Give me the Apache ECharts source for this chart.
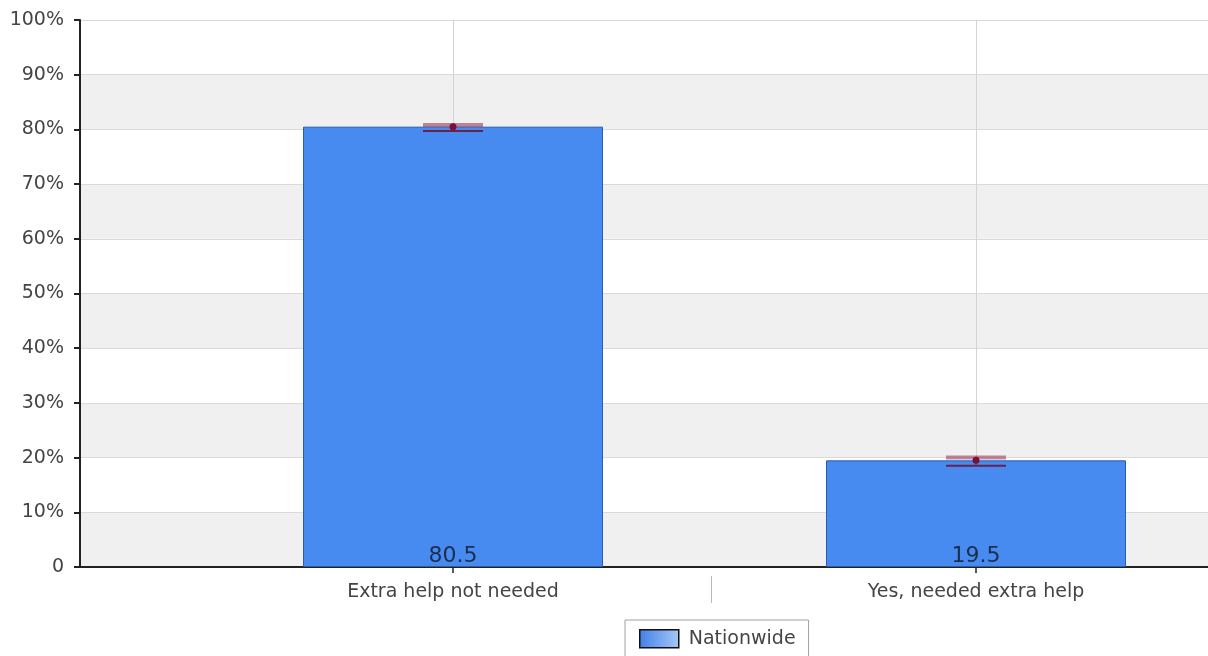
<!DOCTYPE html>
<html>
<head>
<meta charset="utf-8">
<script src="https://cdn.jsdelivr.net/npm/echarts@6/dist/echarts.min.js"></script>
<style>
	html,body{margin:0;padding:0;background:#fff;}
	#main{width:1208px;height:656px;}
</style>
</head>
<body>
<div id="main"></div>
<script>
var categories = ["Extra help not needed","Yes, needed extra help"];
var values = [80.5, 19.5];
var errLow = [79.7, 18.5];
var errHigh = [80.8, 20.0];
var yTicks = [0,10,20,30,40,50,60,70,80,90,100];
var seriesName = "Nationwide";
var font = 'DejaVu Sans, Verdana, sans-serif';

function pct(v){
	if(v == 0){
		return "0";
	}
	return v+"%";
}

function errorBars(params, api){
	var idx = api.value(0);
	var lo = api.coord([idx, api.value(1)]);
	var hi = api.coord([idx, api.value(2)]);
	var mid = api.coord([idx, api.value(3)]);
	var half = 30;
	return {
		type:'group',
		children:[
			{type:'line', shape:{x1:hi[0]-half,y1:hi[1],x2:hi[0]+half,y2:hi[1]},
				style:{stroke:'rgba(150,40,80,0.55)',lineWidth:4}},
			{type:'line', shape:{x1:lo[0]-half,y1:lo[1],x2:lo[0]+half,y2:lo[1]},
				style:{stroke:'#6e1f4a',lineWidth:2}},
			{type:'line', shape:{x1:mid[0],y1:hi[1],x2:mid[0],y2:lo[1]},
				style:{stroke:'#6e1f4a',lineWidth:1}},
			{type:'circle', shape:{cx:mid[0],cy:mid[1],r:3.5},
				style:{fill:'#7a1034'}}
		]
	};
}

var errData = [];
for(var i=0;i<categories.length;i++){
	errData.push([i, errLow[i], errHigh[i], values[i]]);
}

var myChart = echarts.init(document.getElementById('main'));
var option = {
	animation:false,
	textStyle:{fontFamily:font},
	grid:[
		{left:80, right:0, top:20, bottom:89},
		{left:453, right:232, top:20, bottom:89}
	],
	legend:{
		data:[{
			name:seriesName,
			icon:'rect',
			itemStyle:{
				color:new echarts.graphic.LinearGradient(0,0,1,0,[
					{offset:0,color:'#3f7fe8'},{offset:1,color:'#a9c8f7'}
				]),
				borderColor:'#111',
				borderWidth:1.5
			}
		}],
		left:625,
		top:620,
		padding:[9,13,9,14],
		itemWidth:39,
		itemHeight:18,
		borderColor:'#a0a0a0',
		borderWidth:1,
		backgroundColor:'#fff',
		textStyle:{fontSize:19,color:'#444',fontFamily:font,padding:[0,0,0,5]}
	},
	xAxis:[
		{
			gridIndex:0,
			type:'value',
			min:0,
			max:1,
			axisLine:{show:true,lineStyle:{color:'#222',width:2}},
			axisTick:{show:false},
			axisLabel:{show:false},
			splitLine:{show:false}
		},
		{
			gridIndex:1,
			type:'category',
			data:categories,
			boundaryGap:false,
			axisLine:{show:false},
			axisTick:{show:true,length:6,lineStyle:{color:'#222',width:1.5}},
			axisLabel:{color:'#444',fontSize:19,margin:16,fontFamily:font},
			splitLine:{show:true,lineStyle:{color:'#d4d4d4',width:1}}
		}
	],
	yAxis:[
		{
			gridIndex:0,
			type:'value',
			min:0,
			max:100,
			interval:10,
			axisLine:{show:true,lineStyle:{color:'#222',width:2}},
			axisTick:{show:true,length:6,lineStyle:{color:'#222',width:2}},
			axisLabel:{color:'#444',fontSize:19,margin:16,formatter:pct,fontFamily:font},
			splitLine:{show:true,lineStyle:{color:'#dadada',width:1}},
			splitArea:{show:true,areaStyle:{color:['#f0f0f0','#ffffff']}}
		},
		{
			gridIndex:1,
			type:'value',
			min:0,
			max:100,
			show:false
		}
	],
	series:[
		{
			name:seriesName,
			type:'bar',
			xAxisIndex:1,
			yAxisIndex:1,
			data:values,
			barWidth:300,
			itemStyle:{color:'#478bf0',borderColor:'#2b5cae',borderWidth:1},
			label:{
				show:true,
				position:'insideBottom',
				distance:0,
				color:'#1c2d4d',
				fontSize:22,
				fontFamily:font
			}
		},
		{
			name:'ci',
			type:'custom',
			xAxisIndex:1,
			yAxisIndex:1,
			data:errData,
			renderItem:errorBars,
			z:5,
			silent:true
		}
	]
};
myChart.setOption(option);

// thin separator between the category labels
var p0 = myChart.convertToPixel({xAxisIndex:1}, categories[0]);
var p1 = myChart.convertToPixel({xAxisIndex:1}, categories[1]);
var y0 = myChart.convertToPixel({yAxisIndex:0}, 0);
var sep = (p0+p1)/2 - 3;
myChart.setOption({
	graphic:[{
		type:'line',
		shape:{x1:sep,y1:y0+9,x2:sep,y2:y0+36},
		style:{stroke:'#b8b8b8',lineWidth:1}
	}]
});
</script>
</body>
</html>
